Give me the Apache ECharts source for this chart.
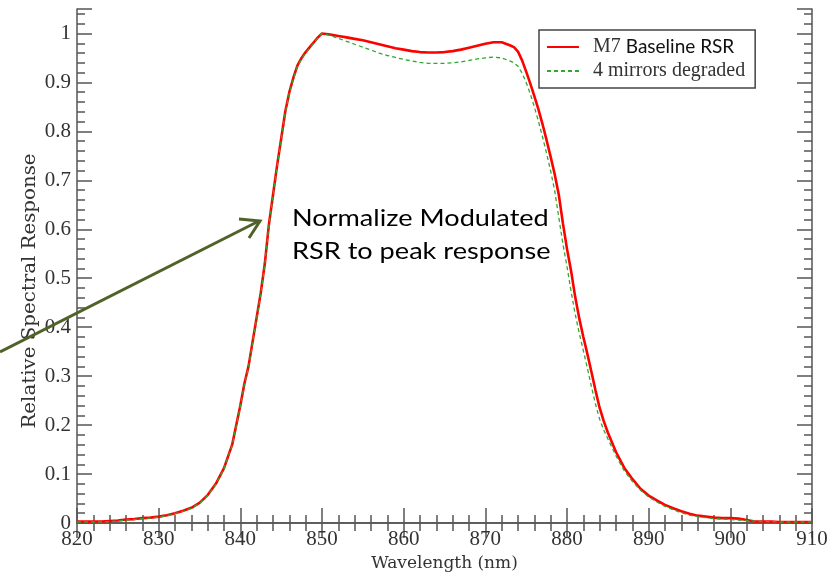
<!DOCTYPE html>
<html>
<head>
<meta charset="utf-8">
<script src="https://cdn.jsdelivr.net/npm/echarts@6/dist/echarts.min.js"></script>
<style>
html, body { margin: 0; padding: 0; background: #fff; }
#chart1 { width: 838px; height: 573px; }
</style>
</head>
<body>
<div id="chart1"></div>
<script>
// wavelength (nm) - finer steps on the steep edges
var wavelengths = [820, 821, 822, 823, 824, 825, 826, 827, 828, 829, 830, 831, 832, 833, 834, 835, 836, 837, 838, 839,
	840, 840.5, 841, 841.5, 842, 842.5, 843, 843.5, 844, 844.5, 845, 845.5, 846, 846.5, 847, 847.5, 848, 848.5, 849, 849.5,
	850, 851, 852, 853, 854, 855, 856, 857, 858, 859, 860, 861, 862, 863, 864, 865, 866, 867, 868, 869, 870, 871, 872,
	873, 873.5, 874, 874.5, 875, 875.5, 876, 876.5, 877, 877.5, 878, 878.5, 879, 879.5, 880, 880.5, 881, 881.5, 882,
	882.5, 883, 883.5, 884, 884.5, 885, 886, 887, 888, 889, 890, 891, 892, 893, 894, 895, 896, 897, 898, 899, 900,
	901, 902, 903, 904, 905, 906, 907, 908, 909, 910];

// M7 Baseline RSR
var baseline = [0.003, 0.003, 0.003, 0.003, 0.004, 0.005, 0.007, 0.008, 0.010, 0.011, 0.013, 0.016, 0.020, 0.025, 0.031, 0.041, 0.057, 0.080, 0.112, 0.160,
	0.240, 0.285, 0.320, 0.370, 0.420, 0.470, 0.530, 0.610, 0.670, 0.730, 0.785, 0.840, 0.880, 0.910, 0.935, 0.950, 0.962, 0.972, 0.982, 0.992,
	1.000, 0.998, 0.995, 0.992, 0.989, 0.986, 0.982, 0.978, 0.974, 0.970, 0.967, 0.964, 0.962, 0.961, 0.961, 0.962, 0.964, 0.967, 0.971, 0.975, 0.979, 0.982, 0.982,
	0.976, 0.972, 0.963, 0.945, 0.922, 0.898, 0.872, 0.845, 0.815, 0.782, 0.748, 0.712, 0.670, 0.612, 0.560, 0.515, 0.462, 0.418, 0.380,
	0.345, 0.308, 0.270, 0.235, 0.208, 0.185, 0.145, 0.113, 0.090, 0.070, 0.056, 0.046, 0.037, 0.030, 0.024, 0.019, 0.015, 0.013, 0.011, 0.010, 0.010,
	0.009, 0.006, 0.003, 0.003, 0.003, 0.002, 0.002, 0.002, 0.002, 0.002];

// 4 mirrors degraded
var degraded = [0.002, 0.002, 0.002, 0.002, 0.003, 0.004, 0.006, 0.007, 0.009, 0.010, 0.012, 0.015, 0.019, 0.024, 0.030, 0.040, 0.056, 0.079, 0.111, 0.159,
	0.238, 0.283, 0.318, 0.368, 0.418, 0.468, 0.528, 0.608, 0.668, 0.728, 0.783, 0.838, 0.878, 0.908, 0.933, 0.948, 0.960, 0.970, 0.980, 0.991,
	1.000, 0.996, 0.990, 0.984, 0.978, 0.972, 0.966, 0.960, 0.955, 0.951, 0.947, 0.944, 0.941, 0.939, 0.939, 0.939, 0.940, 0.942, 0.945, 0.948, 0.950, 0.952, 0.950,
	0.944, 0.940, 0.933, 0.919, 0.900, 0.877, 0.850, 0.821, 0.789, 0.755, 0.719, 0.678, 0.624, 0.570, 0.524, 0.473, 0.427, 0.388, 0.352,
	0.316, 0.278, 0.242, 0.212, 0.190, 0.172, 0.137, 0.107, 0.085, 0.067, 0.053, 0.043, 0.034, 0.027, 0.021, 0.016, 0.013, 0.011, 0.009, 0.008, 0.007,
	0.006, 0.005, 0.004, 0.003, 0.003, 0.002, 0.002, 0.002, 0.002, 0.002];

var seriesNames = ['M7 Baseline RSR', '4 mirrors degraded'];

function pairs(xs, ys) {
	var out = [];
	for (var i = 0; i < xs.length; i++) out.push([xs[i], ys[i]]);
	return out;
}

var myChart = echarts.init(document.getElementById('chart1'));

var axisGray = '#555';
var serif = '"Liberation Serif", "Times New Roman", serif';
var sans = 'Lato, "Noto Sans", sans-serif';

// shared look of the four frame axes (ticks pointing inward)
function frameAxis(extra) {
	var a = {
		type : 'value',
		axisLine : { show : true, lineStyle : { color : axisGray, width : 1.5 } },
		axisTick : { show : true, inside : true, length : 15, lineStyle : { color : axisGray, width : 1.5 } },
		minorTick : { show : true, splitNumber : 5, length : 8, lineStyle : { color : axisGray, width : 1.5 } },
		splitLine : { show : false },
		axisLabel : { show : false }
	};
	for (var k in extra) a[k] = extra[k];
	return a;
}

var option = {
	animation : false,
	backgroundColor : '#fff',
	grid : { left : 77, right : 26, top : 9, bottom : 50, outerBoundsMode : 'none' },
	legend : {
		data : seriesNames,
		orient : 'vertical',
		left : 539,
		top : 30,
		padding : [7, 10, 7, 7],
		itemGap : 4,
		itemWidth : 32,
		itemHeight : 14,
		borderColor : '#444',
		borderWidth : 1.5,
		backgroundColor : '#fff',
		itemStyle : { opacity : 0 },
		textStyle : {
			fontFamily : serif,
			fontSize : 20,
			color : '#333',
			padding : [0, 0, 0, 9],
			rich : {
				m : { fontFamily : serif, fontSize : 20, color : '#333' },
				s : { fontFamily : sans, fontSize : 19, color : '#111' }
			}
		},
		formatter : function(name) {
			if (name === 'M7 Baseline RSR') return '{m|M7} {s|Baseline RSR}';
			return name;
		}
	},
	xAxis : [
		frameAxis({
			min : 820, max : 910, interval : 10,
			position : 'bottom',
			name : 'Wavelength (nm)',
			nameLocation : 'middle',
			nameGap : 31,
			nameTextStyle : { fontFamily : '"DejaVu Serif", serif', fontSize : 17, color : '#333' },
			axisLabel : { show : true, margin : 6, fontFamily : serif, fontSize : 21, color : '#333' }
		}),
		frameAxis({ min : 820, max : 910, interval : 10, position : 'top' })
	],
	yAxis : [
		frameAxis({
			min : 0, max : 1.05, interval : 0.1,
			position : 'left',
			axisLabel : { show : true, margin : 6, fontFamily : serif, fontSize : 21, color : '#333', showMaxLabel : false }
		}),
		frameAxis({ min : 0, max : 1.05, interval : 0.1, position : 'right' })
	],
	series : [
		{
			name : seriesNames[0],
			type : 'line',
			showSymbol : false,
			symbol : 'none',
			lineStyle : { color : '#ff0000', width : 2.6 },
			itemStyle : { color : '#ff0000' },
			data : pairs(wavelengths, baseline),
			z : 2
		},
		{
			name : seriesNames[1],
			type : 'line',
			showSymbol : false,
			symbol : 'none',
			lineStyle : { color : '#2ea82e', width : 1.3, type : [4, 3] },
			itemStyle : { color : '#2ea82e' },
			data : pairs(wavelengths, degraded),
			z : 3
		}
	],
	graphic : [
		{
			// y axis title, set apart so it can sit where the original has it
			type : 'text',
			x : 30,
			y : 291,
			rotation : Math.PI / 2,
			scaleX : 1.1,
			z : 5,
			style : {
				text : 'Relative Spectral Response',
				font : '18px "DejaVu Serif", serif',
				fill : '#333',
				align : 'center',
				verticalAlign : 'middle'
			}
		},
		{
			type : 'text',
			x : 292,
			y : 202,
			scaleX : 1.13,
			z : 10,
			style : {
				text : 'Normalize Modulated\nRSR to peak response',
				font : '24px ' + sans,
				fill : '#000',
				lineHeight : 33
			}
		},
		{
			// annotation arrow
			type : 'polyline',
			z : 10,
			shape : { points : [[0, 352], [259, 221]] },
			style : { stroke : '#4f6228', lineWidth : 3, fill : null }
		},
		{
			type : 'polyline',
			z : 10,
			shape : { points : [[239, 219], [260, 221], [249, 238]] },
			style : { stroke : '#4f6228', lineWidth : 3, fill : null }
		}
	]
};

myChart.setOption(option);
</script>
</body>
</html>
